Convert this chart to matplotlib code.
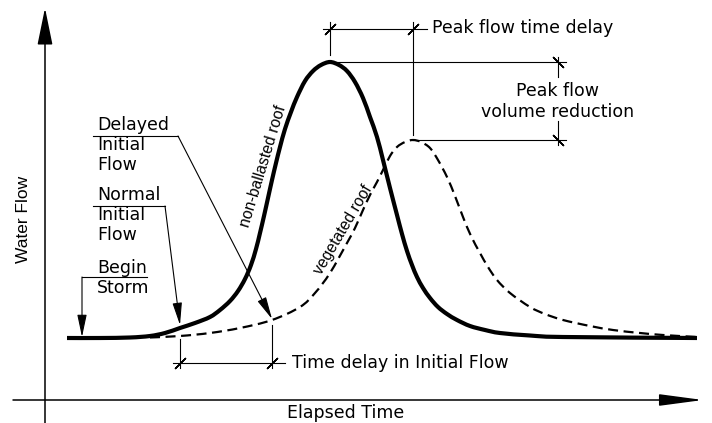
import matplotlib.pyplot as plt
from matplotlib.path import Path
from matplotlib.patches import PathPatch

# sketch values (time and flow in arbitrary units)
roof_time = [67, 100, 130, 150, 165, 180, 195, 210, 220, 230, 238, 245, 251, 256, 260, 264, 268, 272, 276, 280,
             285, 291, 297, 305, 313, 321, 330, 339, 347, 355, 363, 370, 377, 383, 390, 397, 402, 407, 412, 417,
             423, 430, 438, 447, 457, 470, 485, 500, 530, 563, 697]
roof_flow = [85, 85, 85.5, 87, 90, 95, 100, 106, 113, 122, 132, 144, 158, 174, 190, 207, 225, 243, 260, 276,
             294, 311, 326, 342, 352, 358, 361, 358, 352, 341, 325, 306, 286, 263, 235, 208, 189, 172, 158, 146,
             135, 125, 116, 109, 103, 97, 93, 90, 87.5, 86, 85]

veg_time = [150, 180, 210, 240, 272, 300, 315, 330, 347, 355, 363, 370, 377, 383, 390, 397, 405, 413, 421, 430,
            438, 447, 455, 463, 471, 480, 488, 497, 510, 530, 545, 563, 590, 613, 640, 663, 697]
veg_flow = [85.5, 87, 90, 95, 103, 116, 130, 150, 180, 195, 213, 228, 241, 253, 267, 276, 281, 283, 281, 275,
            263, 246, 227, 206, 187, 170, 156, 143, 130, 116, 109, 103, 97, 93, 90, 88, 86]

storm_start = 82
normal_start = 180
delayed_start = 272

plt.rcParams['font.family'] = 'DejaVu Sans'
fig = plt.figure(figsize=(7.12, 4.23), dpi=100)
ax = fig.add_axes([0, 0, 1, 1])
ax.set_xlim(0, 712)
ax.set_ylim(0, 423)
ax.axis('off')

lw_thin = 0.8
k = 'black'


def smooth(xs, ys):
    # catmull-rom through the read points, as cubic bezier segments
    pts = list(zip(xs, ys))
    verts = [pts[0]]
    codes = [Path.MOVETO]
    for i in range(len(pts) - 1):
        p0 = pts[i - 1] if i > 0 else pts[i]
        p1, p2 = pts[i], pts[i + 1]
        p3 = pts[i + 2] if i + 2 < len(pts) else p2
        c1 = (p1[0] + (p2[0] - p0[0]) / 6, p1[1] + (p2[1] - p0[1]) / 6)
        c2 = (p2[0] - (p3[0] - p1[0]) / 6, p2[1] - (p3[1] - p1[1]) / 6)
        verts += [c1, c2, p2]
        codes += [Path.CURVE4] * 3
    return Path(verts, codes)


def arrow(start, tip, hl, hw, lw=lw_thin):
    ax.annotate('', xy=tip, xytext=start,
                arrowprops=dict(arrowstyle='-|>,head_length=%s,head_width=%s' % (hl, hw),
                                color=k, lw=lw, shrinkA=0, shrinkB=0, mutation_scale=10))


def tick(x, y, ang):
    ax.plot([x], [y], marker=(2, 2, ang), markersize=11, markeredgewidth=1.0, color=k)


# axes
arrow((45, 0), (45, 415), 2.3, 0.47, lw=1.1)
arrow((13, 23), (703, 23), 2.7, 0.36, lw=1.1)
ax.text(24, 204, 'Water Flow', rotation=90, ha='center', va='center', fontsize=12.5,
        family='Liberation Sans')
ax.text(287, 5, 'Elapsed Time', ha='left', va='baseline', fontsize=12.5)

# hydrographs
ax.add_patch(PathPatch(smooth(veg_time, veg_flow), fill=False, color=k, lw=1.6,
                       linestyle=(0, (4.5, 2.5)), zorder=3))
ax.add_patch(PathPatch(smooth(roof_time, roof_flow), fill=False, color=k, lw=3.0,
                       capstyle='butt', zorder=4))

ax.text(263, 257, 'non-ballasted roof', rotation=73, rotation_mode='anchor',
        ha='center', va='center', fontsize=11.3, family='Liberation Sans')
ax.text(343, 193, 'vegetated roof', rotation=59.5, rotation_mode='anchor',
        ha='center', va='center', fontsize=11.3, family='Liberation Sans')

# peaks
i_r = roof_flow.index(max(roof_flow))
i_v = veg_flow.index(max(veg_flow))
tr, fr = roof_time[i_r], roof_flow[i_r]
tv, fv = veg_time[i_v], veg_flow[i_v]

# peak flow time delay
ax.plot([tr, tr], [fr + 7, 401], color=k, lw=lw_thin)
ax.plot([tv, tv], [fv + 5, 401], color=k, lw=lw_thin)
ax.plot([tr - 7, tv + 14], [394, 394], color=k, lw=lw_thin)
tick(tr, 394, -45)
tick(tv, 394, -45)
ax.text(432, 390, 'Peak flow time delay', ha='left', va='baseline', fontsize=12.5)

# peak flow volume reduction
xd = 558
ax.plot([tr, xd + 8], [fr, fr], color=k, lw=lw_thin)
ax.plot([tv, xd + 8], [fv, fv], color=k, lw=lw_thin)
ax.plot([xd, xd], [fr + 5, 346], color=k, lw=lw_thin)
ax.plot([xd, xd], [302, fv - 5], color=k, lw=lw_thin)
tick(xd, fr, 45)
tick(xd, fv, 45)
ax.text(xd, 327, 'Peak flow', ha='center', va='baseline', fontsize=12.5)
ax.text(xd, 306, 'volume reduction', ha='center', va='baseline', fontsize=12.5)

# time delay in initial flow
ax.plot([normal_start, normal_start], [84, 55], color=k, lw=lw_thin)
ax.plot([delayed_start, delayed_start], [98, 55], color=k, lw=lw_thin)
ax.plot([173, 285], [60, 60], color=k, lw=lw_thin)
tick(normal_start, 60, -45)
tick(delayed_start, 60, -45)
ax.text(292, 55, 'Time delay in Initial Flow', ha='left', va='baseline', fontsize=12.5)

# leader labels
for s, y in zip(['Delayed', 'Initial', 'Flow'], [293, 273, 253]):
    ax.text(97, y, s, ha='left', va='baseline', fontsize=12.5)
ax.plot([93, 178], [287, 287], color=k, lw=lw_thin)
arrow((178, 287), (delayed_start, 104), 1.37, 0.29)

for s, y in zip(['Normal', 'Initial', 'Flow'], [223, 203, 183]):
    ax.text(97, y, s, ha='left', va='baseline', fontsize=12.5)
ax.plot([93, 165], [217, 217], color=k, lw=lw_thin)
arrow((165, 217), (normal_start, 98), 1.37, 0.29)

for s, y in zip(['Begin', 'Storm'], [150, 130]):
    ax.text(97, y, s, ha='left', va='baseline', fontsize=12.5)
ax.plot([storm_start, 147], [146, 146], color=k, lw=lw_thin)
arrow((storm_start, 146), (storm_start, 86), 1.37, 0.29)

fig.savefig('out.png', dpi=100, facecolor='white')
